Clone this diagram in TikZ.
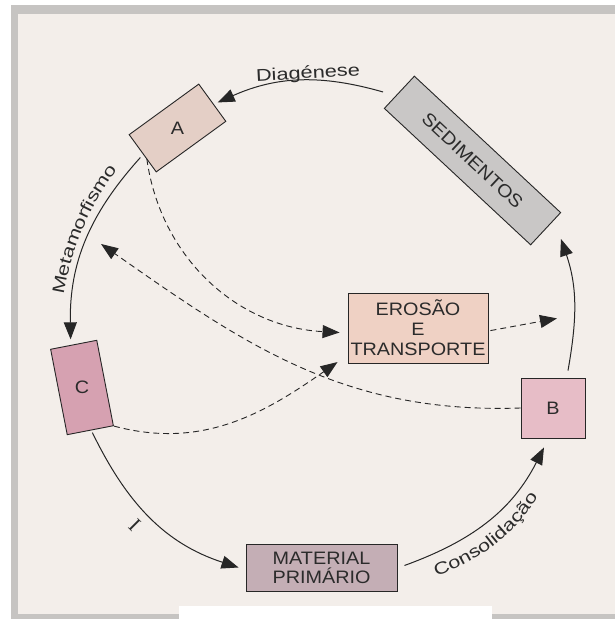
\documentclass[tikz,border=0pt]{standalone}
\usepackage{fontspec}
\setmainfont{Liberation Sans}[FakeStretch=1.1]
\newfontfamily\lblfont{Liberation Sans}[FakeStretch=1.28]
\newfontfamily\serifI{Liberation Serif}
\usetikzlibrary{arrows.meta,calc,decorations.text}
\definecolor{bgc}{HTML}{F3EEEA}
\definecolor{framec}{HTML}{C6C4C2}
\definecolor{linec}{HTML}{262626}
\definecolor{textc}{HTML}{2B2B2B}
\definecolor{cA}{HTML}{E4CFC6}
\definecolor{cS}{HTML}{C9C7C6}
\definecolor{cC}{HTML}{D6A1B1}
\definecolor{cE}{HTML}{EFD1C4}
\definecolor{cB}{HTML}{E7BDC7}
\definecolor{cM}{HTML}{C4AEB5}
\begin{document}
\begin{tikzpicture}[x=1pt,y=1pt,
  box/.style={draw=linec, line width=0.9pt, inner sep=0pt, text=textc,
    font=\fontsize{18}{20}\selectfont, align=center},
  txt/.style={text=textc, inner sep=0pt, font=\fontsize{18}{20}\selectfont},
  lbl/.style={text=textc, inner sep=0pt, font=\lblfont\fontsize{17}{20}\selectfont},
  arc/.style={draw=linec, line width=1pt, -{Triangle[length=17pt,width=13pt]}},
  dsh/.style={arc, line width=0.9pt, dash pattern=on 6pt off 4pt},
  curvlbl/.style={decorate, decoration={text along path, text align=center,
    text={|\lblfont\fontsize{17}{20}\selectfont\color{textc}|#1}}}]
\useasboundingbox (0,0) rectangle (615,619);
% frame and background
\fill[white] (0,0) rectangle (615,619);
\fill[framec] (11,0) rectangle (615,614);
\fill[bgc] (18,5) rectangle (615,605);
\fill[white] (179,0) rectangle (492,13);
% boxes
\node[box, fill=cA, minimum width=86pt, minimum height=46pt, rotate=36] (A) at (177.5,491) {};
\node[txt] at (A.center) {A};
\node[box, fill=cS, minimum width=200pt, minimum height=44pt, rotate=-43] (SED) at (472.5,458.5) {SEDIMENTOS};
\node[box, fill=cC, minimum width=47pt, minimum height=87pt, rotate=11] (C) at (82,231.5) {};
\node[txt] at (C.center) {C};
\node[box, fill=cE, minimum width=140pt, minimum height=70pt] (ERO) at (418,291) {EROSÃO\\E\\TRANSPORTE};
\node[box, fill=cB, minimum width=64pt, minimum height=60pt] (B) at (553,211) {B};
\node[box, fill=cM, minimum width=151pt, minimum height=47pt, font=\fontsize{18}{19}\selectfont] (MAT) at (321.5,51.5) {MATERIAL\\PRIMÁRIO};
% cycle arcs
\draw[arc] ($(SED.west)+(-16,0)$) to[out=164,in=24] ($(A.east)+(5,0)$);
\draw[arc] ($(A.west)+(-2,-4)$) to[out=228,in=91] ($(C.north)+(-3,5)$);
\draw[arc] ($(C.south)+(2,-2)$) to[out=-64,in=162] ($(MAT.west)+(-7,0)$);
\draw[arc] ($(MAT.east)+(7,2)$) to[out=20,in=243] ($(B.south)+(-9,-9)$);
\draw[arc] ($(B.north)+(15,7)$) to[out=80,in=-71] ($(SED.east)+(15,-10)$);
% dashed
\coordinate (cend) at (101,375);
\coordinate (dend) at (557,300.6);
\draw[dsh] ($(A.west)+(4.5,-5.5)$) to[out=-82,in=177] ($(ERO.west)+(-8,-4.5)$);
\draw[dsh] (C.south east) to[out=-15,in=215] ($(ERO.south west)+(-10,1.4)$);
\draw[dsh] (B.west) to[out=182,in=-35] (cend);
\draw[dsh] ($(ERO.east)+(2,-2.6)$) -- (dend);
% labels
\node[lbl, rotate=3] (lD) at (308,545) {Diagénese};
\path[curvlbl=Metamorfismo] ([shift={(347,278)}]176:287) arc[start angle=176, end angle=138, radius=287];
\node[text=textc, inner sep=0pt, font=\serifI\fontsize{21}{21}\selectfont, rotate=-45] (lI) at (134.7,94.3) {I};
\path[curvlbl=Consolidação] ([shift={(373.3,228.2)}]-80:196) arc[start angle=-80, end angle=-24, radius=196];
\end{tikzpicture}
\end{document}
